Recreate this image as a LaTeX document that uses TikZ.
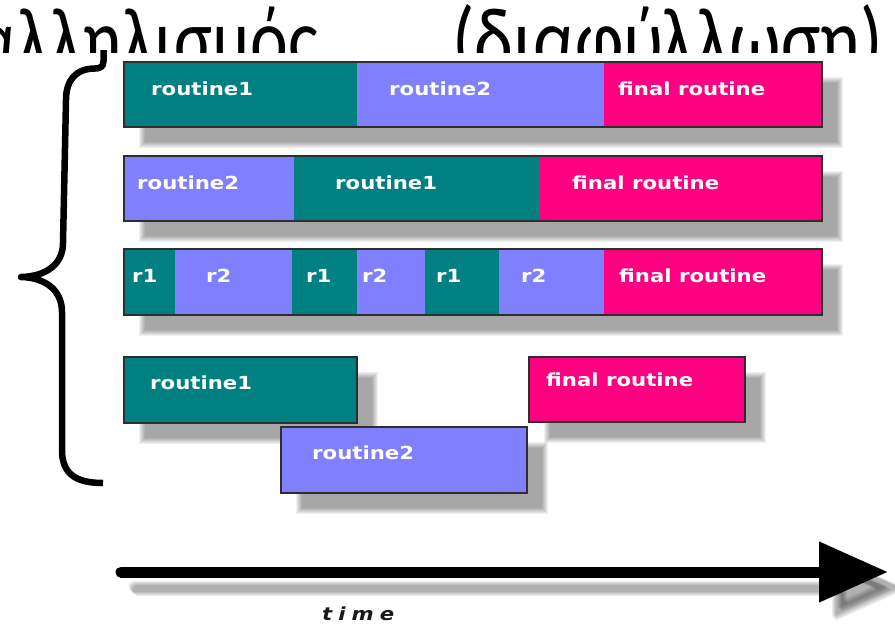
\documentclass[tikz,border=0pt]{standalone}
\usepackage{fontspec}
\usepackage{graphicx}
\usetikzlibrary{arrows.meta,calc}
\newfontfamily\titlefont{Carlito}
\newfontfamily\barfont{DejaVu Sans}[FakeStretch=1.18]

\definecolor{rteal}{HTML}{008080}
\definecolor{rpink}{HTML}{FF0080}
\definecolor{rblue}{HTML}{8080FF}
\definecolor{rline}{HTML}{2E2E2E}

\pgfdeclarelayer{background}
\pgfsetlayers{background,main}

% soft drop shadow behind the box spanned by two corners
\newcommand\softshadow[2]{%
  \foreach \k in {-3,...,3}{%
    \fill[black,opacity=0.06] ($(#1)+(18-\k,18-\k)$) rectangle ($(#2)+(18+\k,18+\k)$);}}

\tikzset{
  seg/.style={draw=none, inner sep=0, outer sep=0, minimum height=65, anchor=north west},
  lbl/.style={text=white, font=\barfont\bfseries\fontsize{18}{20}\selectfont, inner sep=0, anchor=base west},
  outline/.style={draw=rline, line width=1.5},
  bracepath/.style={line width=6.5, line join=round, line cap=butt},
  timeaxis/.style={line width=11, line cap=round, -{Triangle[length=69pt,width=58pt]}},
}

\begin{document}
\begin{tikzpicture}[x=1pt,y=-1pt]
\useasboundingbox (0,0) rectangle (895,625);

% title, partly hidden behind the chart
\begin{scope}
  \clip (0,0) rectangle (895,52);
  \node[anchor=base east, inner sep=0] (titleA) at (318,70)
    {\titlefont\fontsize{74}{80}\selectfont\scalebox{0.965}[1.22]{Ψευδοπαραλληλισμός}};
  \node[anchor=base west, inner sep=0] (titleB) at (452,70)
    {\titlefont\fontsize{74}{80}\selectfont\scalebox{1}[1.22]{(διαφύλλωση)}};
\end{scope}

% row 1: sequential
\node[seg, fill=rteal, minimum width=233] (a1) at (124,62) {};
\node[seg, fill=rblue, minimum width=247] (a2) at (357,62) {};
\node[seg, fill=rpink, minimum width=218] (a3) at (604,62) {};
\draw[outline] (a1.north west) rectangle (a3.south east);
\node[lbl] (la1) at (151,95) {routine1};
\node[lbl] (la2) at (389,95) {routine2};
\node[lbl] (la3) at (618,95) {final routine};

% row 2: sequential, other order
\node[seg, fill=rblue, minimum width=170] (b1) at (124,156) {};
\node[seg, fill=rteal, minimum width=245] (b2) at (294,156) {};
\node[seg, fill=rpink, minimum width=283] (b3) at (539,156) {};
\draw[outline] (b1.north west) rectangle (b3.south east);
\node[lbl] (lb1) at (137,189) {routine2};
\node[lbl] (lb2) at (335,189) {routine1};
\node[lbl] (lb3) at (572,189) {final routine};

% row 3: interleaved
\node[seg, fill=rteal, minimum width=51, minimum height=66]  (c1) at (124,249) {};
\node[seg, fill=rblue, minimum width=117, minimum height=66] (c2) at (175,249) {};
\node[seg, fill=rteal, minimum width=65, minimum height=66]  (c3) at (292,249) {};
\node[seg, fill=rblue, minimum width=68, minimum height=66]  (c4) at (357,249) {};
\node[seg, fill=rteal, minimum width=74, minimum height=66]  (c5) at (425,249) {};
\node[seg, fill=rblue, minimum width=105, minimum height=66] (c6) at (499,249) {};
\node[seg, fill=rpink, minimum width=218, minimum height=66] (c7) at (604,249) {};
\draw[outline] (c1.north west) rectangle (c7.south east);
\node[lbl] (lc1) at (132,282) {r1};
\node[lbl] (lc2) at (206,282) {r2};
\node[lbl] (lc3) at (306,282) {r1};
\node[lbl] (lc4) at (362,282) {r2};
\node[lbl] (lc5) at (436,282) {r1};
\node[lbl] (lc6) at (521,282) {r2};
\node[lbl] (lc7) at (619,282) {final routine};

% row 4: parallel
\node[seg, fill=rteal, minimum width=233, minimum height=66] (d1) at (124,357) {};
\draw[outline] (d1.north west) rectangle (d1.south east);
\node[seg, fill=rpink, minimum width=216] (d3) at (529,357) {};
\draw[outline] (d3.north west) rectangle (d3.south east);
\node[seg, fill=rblue, minimum width=246, minimum height=66] (d2) at (281,427) {};
\draw[outline] (d2.north west) rectangle (d2.south east);
\node[lbl] (ld1) at (150,389) {routine1};
\node[lbl] (ld3) at (546,386) {final routine};
\node[lbl] (ld2) at (312,459) {routine2};

% time axis
\coordinate (t0) at (121,572);
\coordinate (t1) at (888,572);
\draw[timeaxis] (t0) -- (t1);
\node[text=black!90, font=\barfont\bfseries\itshape\fontsize{18}{20}\selectfont, inner sep=0, anchor=base west]
  (tlabel) at (322,620) {t\kern6pt i\kern6pt m\kern6pt e};

% brace grouping the four rows
\draw[bracepath] (103.5,50) -- (103.5,61)
  .. controls (103.5,67) and (100,68.5) .. (95,68.5)
  .. controls (76,68.5) and (66,80) .. (66,100)
  -- (63,243)
  .. controls (63,265) and (45,276.5) .. (21,277)
  .. controls (45,277.5) and (62,290) .. (62,312)
  -- (62,450)
  .. controls (62,474) and (76,483) .. (103,483);

% shadows
\begin{pgfonlayer}{background}
  \softshadow{a1.north west}{a3.south east}
  \softshadow{b1.north west}{b3.south east}
  \softshadow{c1.north west}{c7.south east}
  \softshadow{d1.north west}{d1.south east}
  \softshadow{d3.north west}{d3.south east}
  \softshadow{d2.north west}{d2.south east}
  \foreach \k in {-2,...,2}{%
    \draw[timeaxis, black, opacity=0.07] ($(t0)+(15+\k,16+\k)$) -- ($(t1)+(15+\k,16+\k)$);}
\end{pgfonlayer}
\end{tikzpicture}
\end{document}
